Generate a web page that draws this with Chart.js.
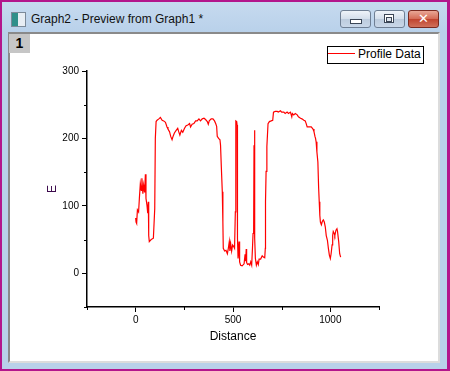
<!DOCTYPE html>
<html>
<head>
<meta charset="utf-8">
<script src="https://cdn.jsdelivr.net/npm/chart.js@4.4.1/dist/chart.umd.min.js"></script>
<style>
  html, body { margin: 0; padding: 0; width: 450px; height: 371px; overflow: hidden; background: #b3168c; font-family: "Liberation Sans", Arial, sans-serif; }
  #frame { position: absolute; left: 2px; top: 2px; width: 445px; height: 367px; background: linear-gradient(#c6daef, #b9d1ea 30px, #b9d1ea); }
  #icon { position: absolute; left: 11px; top: 12px; width: 13px; height: 13px; border: 1px solid #7c8a99; background: linear-gradient(90deg, #2f8f8a 0, #2f8f8a 45%, #e8eef4 45%, #e8eef4 100%); }
  #title { position: absolute; left: 31px; top: 12px; font-size: 12px; line-height: 15px; color: #111; white-space: nowrap; }
  .btn { position: absolute; top: 10px; width: 29px; height: 16px; border: 1px solid #6f7f94; border-radius: 3px; background: linear-gradient(#eef3f9, #d3deeb 50%, #bccbdd 51%, #c9d7e8); }
  .btn.close { border-color: #7a2a20; background: linear-gradient(#e9a796, #d46a55 50%, #c0432e 51%, #d0705a); }
  .glyph { position: absolute; }
  #client { position: absolute; left: 8px; top: 32px; width: 432px; height: 331px; box-sizing: border-box; background: #fff;
            border-top: 2px solid #8a8a8a; border-left: 2px solid #8a8a8a; border-right: 2px solid #dcdcdc; border-bottom: 2px solid #dcdcdc; }
  #layer { position: absolute; left: 9px; top: 34px; width: 21px; height: 19px; background: #c6c6c6; font-size: 14px; font-weight: bold; line-height: 19px; text-align: center; color: #000; }
  #chart { position: absolute; left: 0; top: 0; }
  #legend { position: absolute; left: 327px; top: 46px; width: 95px; height: 16px; border: 1px solid #000; background: #fff; }
  #legend .swatch { position: absolute; left: 0; top: 6px; width: 27px; height: 1px; background: #ff0000; }
  #legend .label { position: absolute; left: 30px; top: 0; font-size: 12px; line-height: 15px; color: #000; white-space: nowrap; }
</style>
</head>
<body>
<div id="frame"></div>
<div id="icon"></div>
<div id="title">Graph2 - Preview from Graph1 *</div>
<div class="btn" style="left:340px"><div class="glyph" style="left:9px;top:8px;width:10px;height:3px;background:#fff;border:1px solid #3b4656;"></div></div>
<div class="btn" style="left:374px"><div class="glyph" style="left:9px;top:3px;width:8px;height:7px;border:1px solid #3b4656;background:#fff;"><div style="position:absolute;left:1px;top:2px;width:4px;height:3px;border:1px solid #3b4656;background:#dfe6ef;"></div></div></div>
<div class="btn close" style="left:408px"><div class="glyph" style="left:9px;top:0px;font:bold 13px 'DejaVu Sans';color:#fff;line-height:16px;">&#x2715;</div></div>
<div id="client"></div>
<div id="layer">1</div>
<canvas id="chart" width="450" height="371"></canvas>
<div id="legend"><div class="swatch"></div><div class="label">Profile Data</div></div>

<script>
// Profile values
const distance = [
  0, 2, 5, 9, 15, 19, 24, 29, 32, 37,
  41, 46, 50, 53, 58, 62, 65, 67, 70, 76,
  84, 91, 98, 101, 105, 110, 119, 127, 136, 144,
  153, 161, 166, 174, 180, 187, 192, 199, 208, 216,
  221, 227, 235, 242, 251, 259, 268, 277, 282, 290,
  299, 308, 316, 325, 333, 342, 351, 359, 368, 373,
  378, 388, 397, 405, 411, 416, 419, 426, 433, 436,
  440, 445, 448, 450, 457, 464, 471, 476, 481, 484,
  488, 493, 498, 503, 508, 512, 514, 515, 519, 521,
  522, 524, 526, 531, 534, 539, 547, 557, 562, 565,
  568, 570, 575, 581, 586, 591, 596, 600, 603, 606,
  608, 610, 611, 613, 615, 620, 625, 630, 634, 642,
  650, 656, 663, 666, 667, 670, 674, 677, 680, 687,
  696, 704, 708, 717, 727, 733, 744, 750, 761, 768,
  778, 785, 795, 802, 805, 812, 820, 830, 836, 847,
  854, 864, 871, 876, 881, 893, 902, 911, 916, 921,
  924, 927, 931, 936, 940, 943, 946, 949, 954, 959,
  964, 969, 974, 979, 985, 990, 995, 1000, 1004, 1009,
  1012, 1015, 1020, 1023, 1029, 1034, 1037, 1043, 1048, 1053
];
const eValues = [
  82, 76, 74, 94, 91, 111, 133, 123, 141, 118,
  131, 120, 147, 111, 101, 89, 106, 56, 47, 49,
  51, 52, 96, 200, 225, 227, 229, 231, 227, 226,
  224, 217, 214, 210, 203, 198, 203, 208, 212, 215,
  210, 205, 212, 209, 215, 219, 220, 222, 217, 221,
  222, 226, 226, 229, 226, 229, 230, 228, 225, 221,
  226, 229, 229, 226, 222, 218, 203, 200, 198, 190,
  158, 121, 76, 37, 33, 34, 29, 37, 47, 33,
  44, 33, 42, 40, 37, 91, 121, 226, 225, 220,
  121, 52, 22, 47, 17, 12, 11, 14, 28, 18,
  36, 16, 13, 14, 12, 17, 12, 37, 59, 61,
  190, 212, 190, 52, 22, 12, 17, 13, 21, 21,
  26, 24, 23, 37, 106, 151, 188, 205, 222, 225,
  226, 227, 239, 240, 240, 239, 241, 239, 239, 237,
  239, 237, 239, 232, 237, 235, 237, 235, 232, 230,
  229, 227, 226, 222, 217, 217, 217, 214, 210, 203,
  200, 195, 180, 165, 126, 106, 86, 76, 72, 77,
  79, 76, 69, 56, 49, 37, 27, 22, 29, 42,
  56, 62, 59, 56, 64, 66, 62, 47, 29, 24
];

// axis ticks
const xTicks = [0, 500, 1000];
const xMinorTicks = [-250, 250, 750, 1250];
const yTicks = [0, 100, 200, 300];
const yMinorTicks = [-50, 50, 150, 250];

const points = distance.map((d, i) => ({ x: d, y: eValues[i] }));

// short minor ticks, Origin style
const minorTickPlugin = {
  id: 'minorTicks',
  afterDraw(chart) {
    const { ctx, chartArea } = chart;
    const x = chart.scales.x, y = chart.scales.y;
    ctx.save();
    ctx.strokeStyle = '#000';
    ctx.lineWidth = 1;
    ctx.beginPath();
    xMinorTicks.forEach(v => {
      const px = Math.round(x.getPixelForValue(v)) + 0.5;
      ctx.moveTo(px, chartArea.bottom);
      ctx.lineTo(px, chartArea.bottom + 3);
    });
    yMinorTicks.forEach(v => {
      const py = Math.round(y.getPixelForValue(v)) + 0.5;
      ctx.moveTo(chartArea.left, py);
      ctx.lineTo(chartArea.left - 3, py);
    });
    ctx.stroke();
    ctx.restore();
  }
};

const tickFont = { family: '"Liberation Sans", Arial, sans-serif', size: 10 };
const titleFont = { family: '"Liberation Sans", Arial, sans-serif', size: 12 };

new Chart(document.getElementById('chart'), {
  type: 'scatter',
  data: {
    datasets: [{
      label: 'Profile Data',
      data: points,
      showLine: true,
      borderColor: '#ff0000',
      borderWidth: 1.2,
      pointRadius: 0,
      tension: 0
    }]
  },
  options: {
    responsive: false,
    animation: false,
    events: [],
    layout: { padding: { left: 37, top: 71, right: 71, bottom: 14 } },
    plugins: { legend: { display: false }, tooltip: { enabled: false } },
    scales: {
      x: {
        type: 'linear',
        min: -250,
        max: 1250,
        afterBuildTicks: s => { s.ticks = xTicks.map(v => ({ value: v })); },
        afterFit: s => { s.height = 50; },
        border: { display: true, color: '#000', width: 1.5 },
        grid: { display: true, drawOnChartArea: false, drawTicks: true, tickLength: 5, tickColor: '#000', tickWidth: 1 },
        ticks: { color: '#000', font: tickFont, padding: 2, maxRotation: 0, autoSkip: false, callback: v => String(v) },
        title: { display: true, text: 'Distance', color: '#000', font: titleFont, padding: { top: 0, bottom: 13 } }
      },
      y: {
        type: 'linear',
        min: -50,
        max: 300,
        afterBuildTicks: s => { s.ticks = yTicks.map(v => ({ value: v })); },
        afterFit: s => { s.width = 50; },
        border: { display: true, color: '#000', width: 1.5 },
        grid: { display: true, drawOnChartArea: false, drawTicks: true, tickLength: 5, tickColor: '#000', tickWidth: 1 },
        ticks: { color: '#000', font: tickFont, padding: 3, autoSkip: false, callback: v => String(v) },
        title: { display: true, text: 'E', color: '#3c0a4c', font: titleFont, padding: { top: 8, bottom: 0 } }
      }
    }
  },
  plugins: [minorTickPlugin]
});
</script>
</body>
</html>
